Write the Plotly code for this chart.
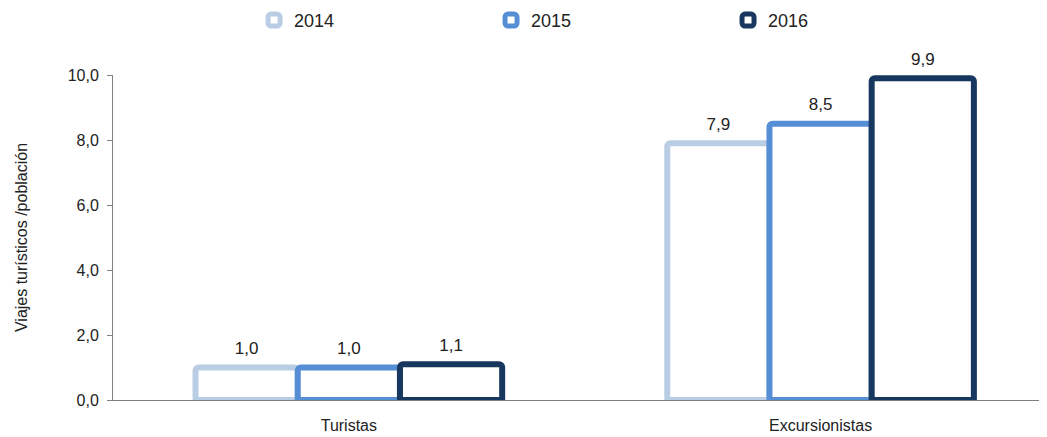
import plotly.graph_objects as go

categories = ["Turistas", "Excursionistas"]
years = ["2014", "2015", "2016"]
values_2014 = [1.0, 7.9]
values_2015 = [1.0, 8.5]
values_2016 = [1.1, 9.9]
colors = ["#B9CDE5", "#558ED5", "#17375E"]
y_ticks = [0, 2, 4, 6, 8, 10]

series = [values_2014, values_2015, values_2016]

fig = go.Figure()
for name, vals, col in zip(years, series, colors):
    fig.add_trace(go.Bar(
        x=categories, y=vals, name=name, offsetgroup=name,
        marker=dict(color="white", line=dict(color=col, width=6), cornerradius=3),
        cliponaxis=False,
    ))
for name, vals in zip(years, series):
    fig.add_trace(go.Scatter(
        x=categories, y=vals, name=name, offsetgroup=name, showlegend=False,
        mode="markers+text", marker=dict(size=13, opacity=0),
        text=[f"{v:.1f}".replace(".", ",") for v in vals],
        textposition="top center",
        textfont=dict(size=17, color="#222222"),
        cliponaxis=False, hoverinfo="skip",
    ))

fig.update_layout(
    width=1039, height=429,
    margin=dict(l=105, r=0, t=67, b=37, autoexpand=False),
    paper_bgcolor="white", plot_bgcolor="white",
    separators=",.",
    font=dict(family="Liberation Sans, Arial, sans-serif", size=16, color="#222222"),
    barmode="group", bargap=0.35, bargroupgap=0,
    scattermode="group", scattergap=0.35,
    showlegend=True,
    legend=dict(orientation="h", x=0.151, xanchor="left", y=1.225, yanchor="top",
                entrywidth=192, entrywidthmode="pixels",
                font=dict(size=18, color="#222222"), itemwidth=30,
                traceorder="normal"),
    xaxis=dict(range=[-0.5, 1.48], showline=True, linecolor="#808080", linewidth=1, ticks="",
               tickfont=dict(size=16), showgrid=False, ticklabelstandoff=11),
    yaxis=dict(range=[0, 10], tickvals=y_ticks, tickformat=".1f",
               showline=True, linecolor="#808080", linewidth=1,
               ticks="outside", ticklen=5, tickcolor="#808080",
               showgrid=False, zeroline=False, tickfont=dict(size=16),
               ticklabelstandoff=5,
               title=dict(text="Viajes turísticos /población", font=dict(size=16), standoff=36)),
)

fig.write_html("out.html")
